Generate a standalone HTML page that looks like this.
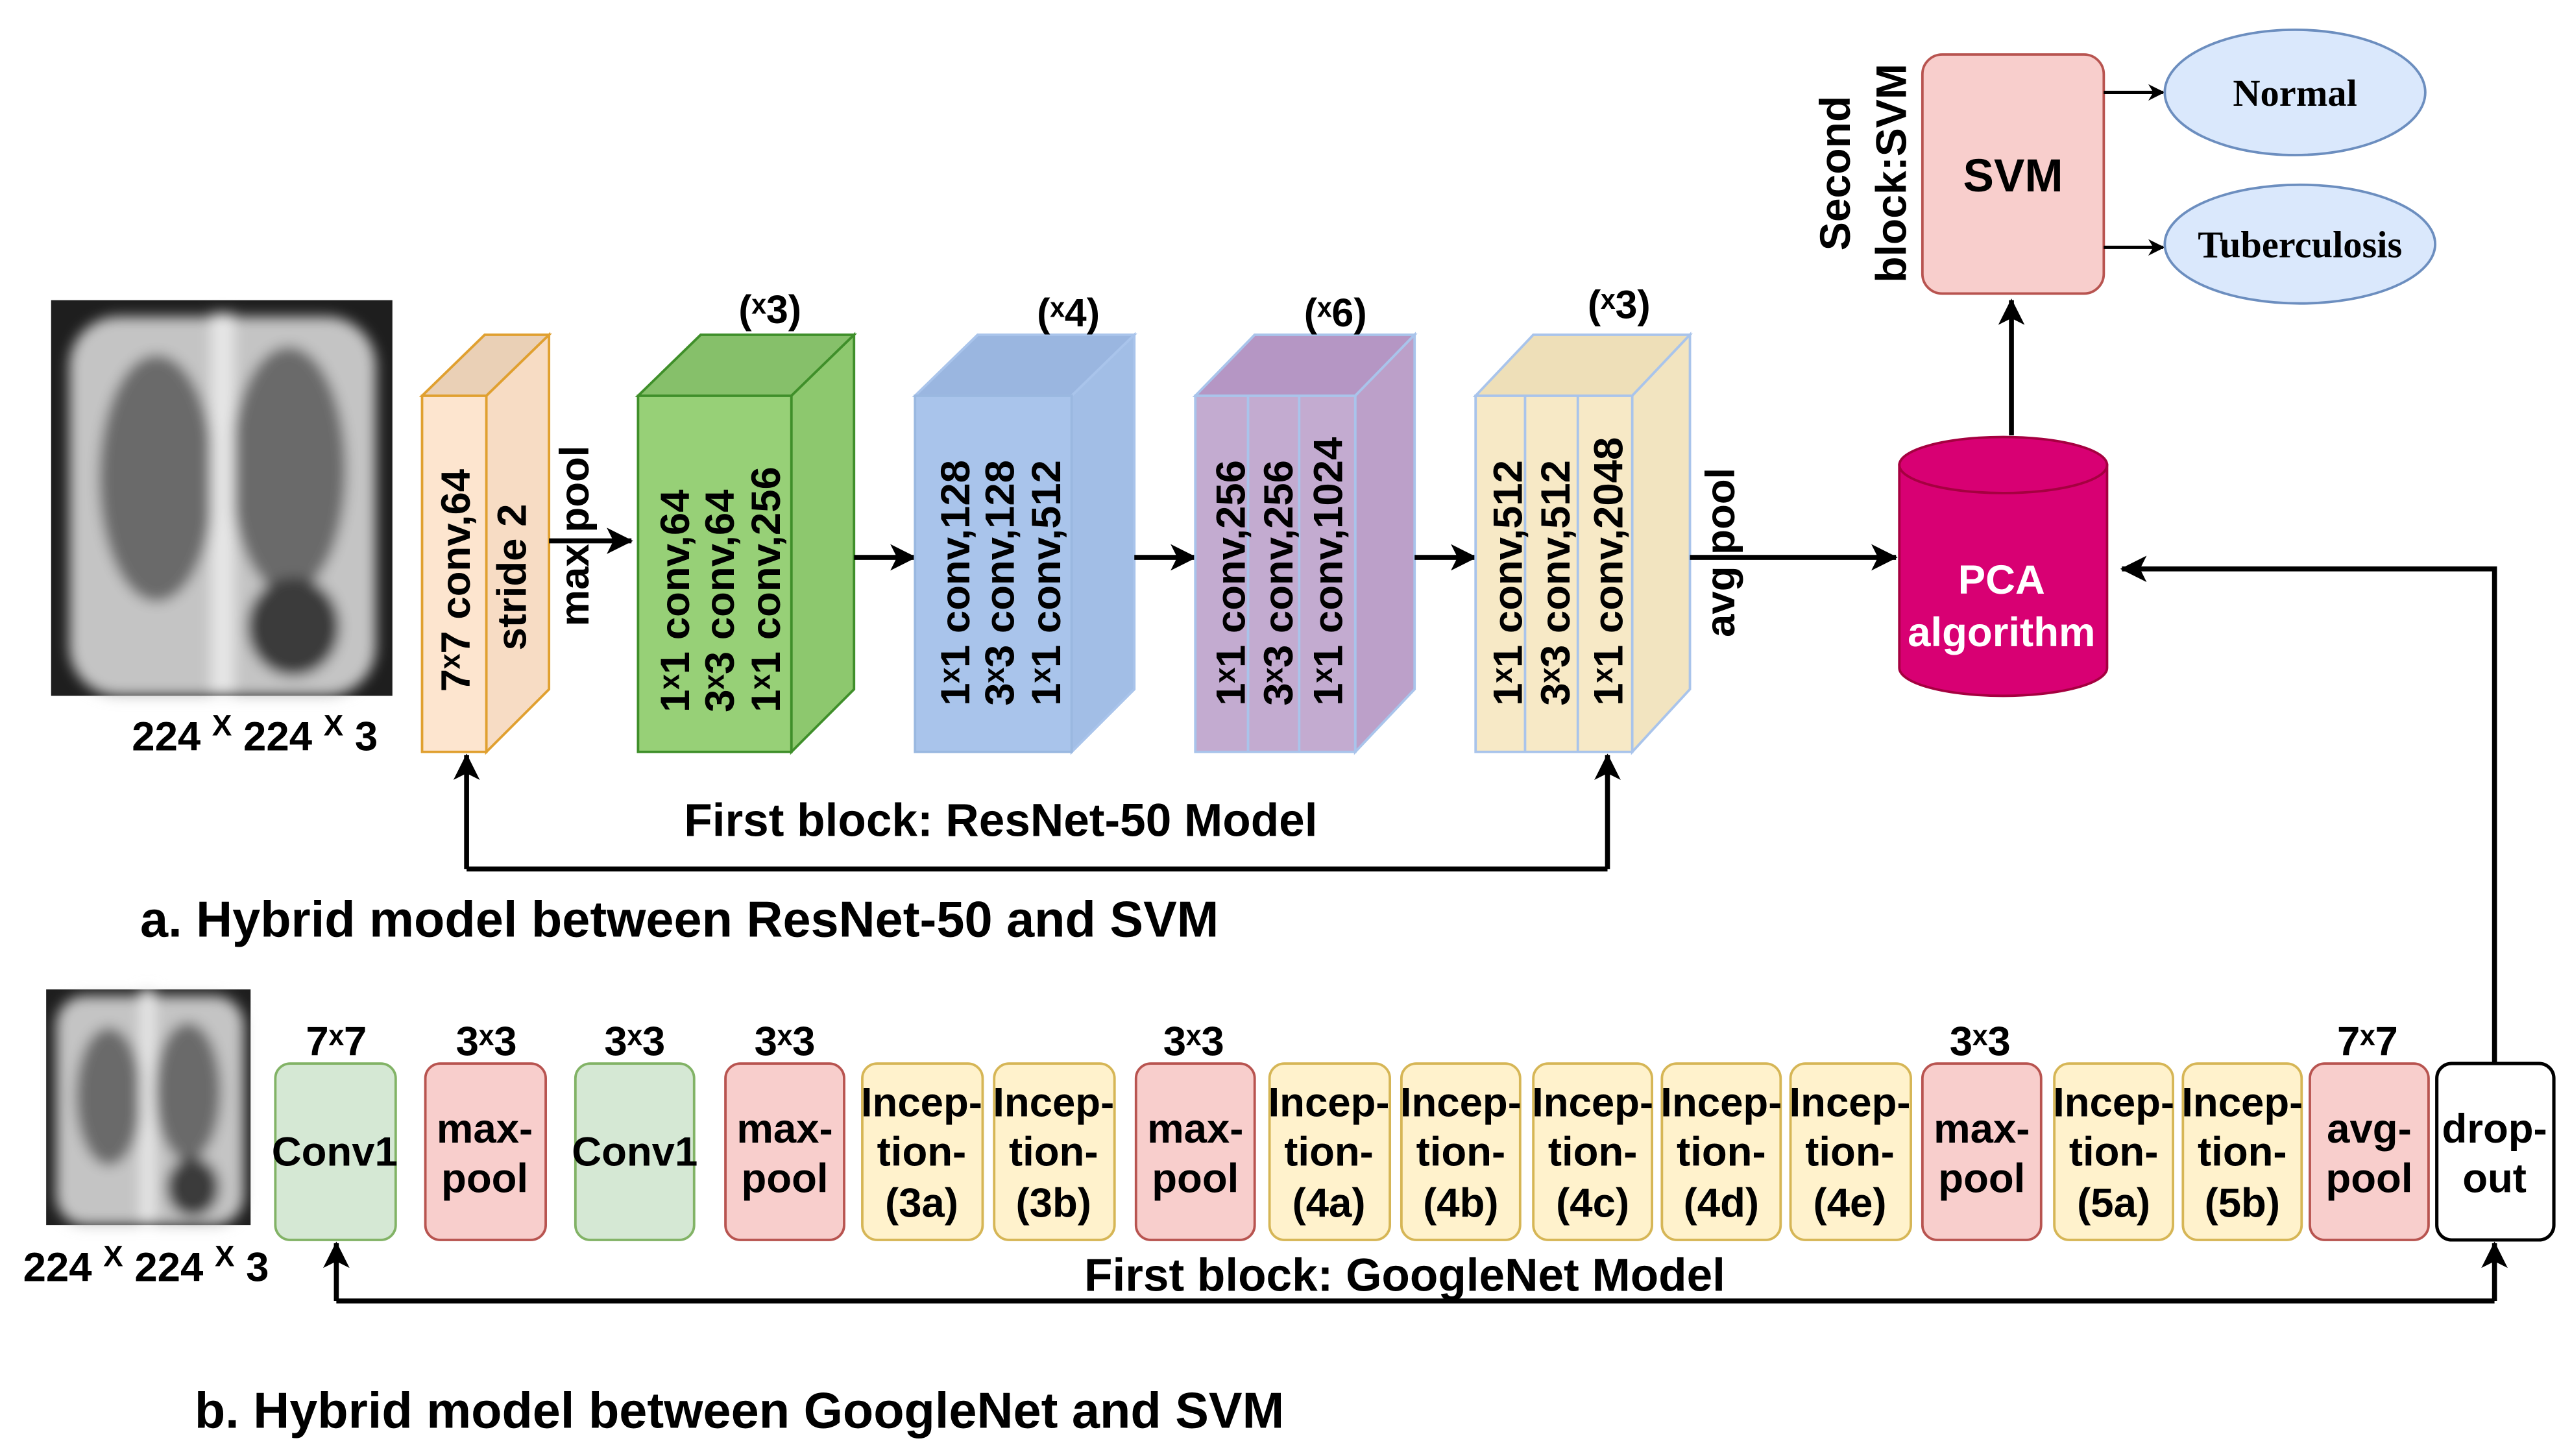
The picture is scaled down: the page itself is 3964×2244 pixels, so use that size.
<!DOCTYPE html>
<html><head><meta charset="utf-8"><style>
html,body{margin:0;padding:0;background:#fff;}
svg{display:block;}
text{font-family:"Liberation Sans",sans-serif;font-weight:bold;fill:#000;}
</style></head><body>
<svg width="3964" height="2244" viewBox="0 0 1560 883" xmlns="http://www.w3.org/2000/svg">
<defs>
<marker id="ah" markerWidth="10" markerHeight="10" refX="9" refY="5" orient="auto" markerUnits="userSpaceOnUse">
<path d="M0,0 L10,5 L0,10 L3,5 Z" fill="#000"/></marker>
<marker id="ahb" markerWidth="16" markerHeight="16" refX="15" refY="8" orient="auto" markerUnits="userSpaceOnUse">
<path d="M0,0 L16,8 L0,16 L4,8 Z" fill="#000"/></marker>
<filter id="bl"><feGaussianBlur stdDeviation="4"/></filter>
</defs>

<!-- X-ray top -->
<g>
<rect x="31" y="182" width="207" height="240" fill="#1e1e1e"/>
<g filter="url(#bl)">
<rect x="42" y="192" width="186" height="230" rx="30" fill="#c4c4c4"/>
<ellipse cx="95" cy="290" rx="35" ry="75" fill="#6a6a6a"/>
<ellipse cx="175" cy="285" rx="35" ry="75" fill="#6a6a6a"/>
<rect x="128" y="190" width="14" height="232" fill="#e6e6e6"/>
<ellipse cx="178" cy="380" rx="28" ry="30" fill="#3a3a3a"/>
</g>
</g>
<text x="80" y="455" font-size="25">224 <tspan font-size="18" dy="-9">X</tspan><tspan dy="9"> 224 </tspan><tspan font-size="18" dy="-9">X</tspan><tspan dy="9"> 3</tspan></text>

<!-- Orange -->
<polygon points="256,240 295,240 333,203 294,203" fill="#ead0b6" stroke="#e0a030" stroke-width="1.5"/>
<polygon points="295,240 333,203 333,418 295,456" fill="#f7dcc4" stroke="#e0a030" stroke-width="1.5"/>
<rect x="256" y="240" width="39" height="216" fill="#fde5cf" stroke="#e0a030" stroke-width="1.5"/>
<text transform="translate(285,352) rotate(-90)" font-size="25" text-anchor="middle">7ˣ7 conv,64</text>
<text transform="translate(319,350) rotate(-90)" font-size="25" text-anchor="middle">stride 2</text>
<text transform="translate(357,325) rotate(-90)" font-size="25" text-anchor="middle">max pool</text>
<line x1="333" y1="328" x2="383" y2="328" stroke="#000" stroke-width="3" marker-end="url(#ahb)"/>

<!-- Green -->
<polygon points="387,240 480,240 518,203 425,203" fill="#86c06a" stroke="#3f8f2a" stroke-width="1.5"/>
<polygon points="480,240 518,203 518,418 480,456" fill="#8dc86e" stroke="#3f8f2a" stroke-width="1.5"/>
<rect x="387" y="240" width="93" height="216" fill="#97d077" stroke="#3f8f2a" stroke-width="1.5"/>
<text x="467" y="196" font-size="24" text-anchor="middle">(ˣ3)</text>
<text transform="translate(418,432) rotate(-90)" font-size="25">1ˣ1 conv,64</text>
<text transform="translate(445,432) rotate(-90)" font-size="25">3ˣ3 conv,64</text>
<text transform="translate(473,432) rotate(-90)" font-size="25">1ˣ1 conv,256</text>
<line x1="518" y1="338" x2="555" y2="338" stroke="#000" stroke-width="3" marker-end="url(#ahb)"/>

<!-- Blue -->
<polygon points="555,240 650,240 688,203 593,203" fill="#9ab6e0" stroke="#a9c4eb" stroke-width="1.5"/>
<polygon points="650,240 688,203 688,418 650,456" fill="#a2bee6" stroke="#a9c4eb" stroke-width="1.5"/>
<rect x="555" y="240" width="95" height="216" fill="#a9c4eb" stroke="#9ab8e0" stroke-width="1.5"/>
<text x="648" y="198" font-size="24" text-anchor="middle">(ˣ4)</text>
<text transform="translate(588,428) rotate(-90)" font-size="25">1ˣ1 conv,128</text>
<text transform="translate(615,428) rotate(-90)" font-size="25">3ˣ3 conv,128</text>
<text transform="translate(643,428) rotate(-90)" font-size="25">1ˣ1 conv,512</text>
<line x1="688" y1="338" x2="725" y2="338" stroke="#000" stroke-width="3" marker-end="url(#ahb)"/>

<!-- Purple -->
<polygon points="725,240 822,240 858,203 761,203" fill="#b596c4" stroke="#a9c4eb" stroke-width="1.5"/>
<polygon points="822,240 858,203 858,418 822,456" fill="#bca0c9" stroke="#a9c4eb" stroke-width="1.5"/>
<rect x="725" y="240" width="97" height="216" fill="#c3abd0" stroke="#a9c4eb" stroke-width="1.5"/>
<line x1="757" y1="240" x2="757" y2="456" stroke="#a9c4eb" stroke-width="1.5"/>
<line x1="788" y1="240" x2="788" y2="456" stroke="#a9c4eb" stroke-width="1.5"/>
<text x="810" y="198" font-size="24" text-anchor="middle">(ˣ6)</text>
<text transform="translate(755,428) rotate(-90)" font-size="25">1ˣ1 conv,256</text>
<text transform="translate(784,428) rotate(-90)" font-size="25">3ˣ3 conv,256</text>
<text transform="translate(814,428) rotate(-90)" font-size="25">1ˣ1 conv,1024</text>
<line x1="858" y1="338" x2="895" y2="338" stroke="#000" stroke-width="3" marker-end="url(#ahb)"/>

<!-- Yellow -->
<polygon points="895,240 990,240 1025,203 930,203" fill="#eedfb8" stroke="#a9c4eb" stroke-width="1.5"/>
<polygon points="990,240 1025,203 1025,418 990,456" fill="#f2e4c0" stroke="#a9c4eb" stroke-width="1.5"/>
<rect x="895" y="240" width="95" height="216" fill="#f7e9c6" stroke="#a9c4eb" stroke-width="1.5"/>
<line x1="925" y1="240" x2="925" y2="456" stroke="#a9c4eb" stroke-width="1.5"/>
<line x1="957" y1="240" x2="957" y2="456" stroke="#a9c4eb" stroke-width="1.5"/>
<text x="982" y="193" font-size="24" text-anchor="middle">(ˣ3)</text>
<text transform="translate(923,428) rotate(-90)" font-size="25">1ˣ1 conv,512</text>
<text transform="translate(952,428) rotate(-90)" font-size="25">3ˣ3 conv,512</text>
<text transform="translate(984,428) rotate(-90)" font-size="25">1ˣ1 conv,2048</text>
<text transform="translate(1052,335) rotate(-90)" font-size="25" text-anchor="middle">avg  pool</text>
<line x1="1025" y1="338" x2="1150" y2="338" stroke="#000" stroke-width="3" marker-end="url(#ahb)"/>

<!-- PCA cylinder -->
<path d="M1152,282 L1152,405 A63,17 0 0 0 1278,405 L1278,282 Z" fill="#d80073" stroke="#a50040" stroke-width="1.5"/>
<ellipse cx="1215" cy="282" rx="63" ry="17" fill="#d80073" stroke="#a50040" stroke-width="1.5"/>
<text x="1214" y="360" font-size="25" text-anchor="middle" style="fill:#fff">PCA</text>
<text x="1214" y="392" font-size="25" text-anchor="middle" style="fill:#fff">algorithm</text>
<line x1="1220" y1="264" x2="1220" y2="182" stroke="#000" stroke-width="3" marker-end="url(#ahb)"/>

<!-- SVM -->
<rect x="1166" y="33" width="110" height="145" rx="12" fill="#f8cecc" stroke="#b85450" stroke-width="1.5"/>
<text x="1221" y="116" font-size="28" text-anchor="middle">SVM</text>
<text transform="translate(1122,105) rotate(-90)" font-size="26" text-anchor="middle">Second</text>
<text transform="translate(1156,105) rotate(-90)" font-size="26" text-anchor="middle">block:SVM</text>
<line x1="1276" y1="56" x2="1312" y2="56" stroke="#000" stroke-width="2" marker-end="url(#ah)"/>
<line x1="1276" y1="150" x2="1312" y2="150" stroke="#000" stroke-width="2" marker-end="url(#ah)"/>
<ellipse cx="1392" cy="56" rx="79" ry="38" fill="#dae8fc" stroke="#6c8ebf" stroke-width="1.5"/>
<ellipse cx="1395" cy="148" rx="82" ry="36" fill="#dae8fc" stroke="#6c8ebf" stroke-width="1.5"/>
<text x="1392" y="64" font-size="23" text-anchor="middle" style="font-family:'Liberation Serif',serif">Normal</text>
<text x="1395" y="156" font-size="23" text-anchor="middle" style="font-family:'Liberation Serif',serif">Tuberculosis</text>

<!-- ResNet feedback -->
<polyline points="283,527 975,527" fill="none" stroke="#000" stroke-width="3"/>
<line x1="283" y1="527" x2="283" y2="458" stroke="#000" stroke-width="3" marker-end="url(#ahb)"/>
<line x1="975" y1="527" x2="975" y2="458" stroke="#000" stroke-width="3" marker-end="url(#ahb)"/>
<text x="607" y="507" font-size="28" text-anchor="middle">First block: ResNet-50 Model</text>
<text x="85" y="568" font-size="30.5">a. Hybrid model between ResNet-50 and SVM</text>

<!-- right loop -->
<polyline points="1513,645 1513,345 1287,345" fill="none" stroke="#000" stroke-width="3" marker-end="url(#ahb)"/>

<!-- bottom xray -->
<rect x="28" y="600" width="124" height="143" fill="#1e1e1e"/>
<g filter="url(#bl)">
<rect x="34" y="604" width="114" height="139" rx="18" fill="#c4c4c4"/>
<ellipse cx="66" cy="665" rx="20" ry="42" fill="#6a6a6a"/>
<ellipse cx="114" cy="662" rx="20" ry="42" fill="#6a6a6a"/>
<rect x="85" y="600" width="9" height="143" fill="#e6e6e6"/>
<ellipse cx="117" cy="720" rx="16" ry="18" fill="#3a3a3a"/>
</g>
<text x="14" y="777" font-size="25">224 <tspan font-size="18" dy="-9">X</tspan><tspan dy="9"> 224 </tspan><tspan font-size="18" dy="-9">X</tspan><tspan dy="9"> 3</tspan></text>

<!-- bottom boxes -->
<g font-size="25" text-anchor="middle">
<rect x="167" y="645" width="73" height="107" rx="9" fill="#d5e8d4" stroke="#82b366" stroke-width="1.5"/>
<text x="203" y="707">Conv1</text>
<rect x="258" y="645" width="73" height="107" rx="9" fill="#f8cecc" stroke="#b85450" stroke-width="1.5"/>
<text x="294" y="693">max-</text><text x="294" y="723">pool</text>
<rect x="349" y="645" width="72" height="107" rx="9" fill="#d5e8d4" stroke="#82b366" stroke-width="1.5"/>
<text x="385" y="707">Conv1</text>
<rect x="440" y="645" width="72" height="107" rx="9" fill="#f8cecc" stroke="#b85450" stroke-width="1.5"/>
<text x="476" y="693">max-</text><text x="476" y="723">pool</text>
<rect x="523" y="645" width="73" height="107" rx="9" fill="#fff2cc" stroke="#d6b656" stroke-width="1.5"/>
<text x="559" y="677">Incep-</text><text x="559" y="707">tion-</text><text x="559" y="738">(3a)</text>
<rect x="603" y="645" width="73" height="107" rx="9" fill="#fff2cc" stroke="#d6b656" stroke-width="1.5"/>
<text x="639" y="677">Incep-</text><text x="639" y="707">tion-</text><text x="639" y="738">(3b)</text>
<rect x="689" y="645" width="72" height="107" rx="9" fill="#f8cecc" stroke="#b85450" stroke-width="1.5"/>
<text x="725" y="693">max-</text><text x="725" y="723">pool</text>
<rect x="770" y="645" width="73" height="107" rx="9" fill="#fff2cc" stroke="#d6b656" stroke-width="1.5"/>
<text x="806" y="677">Incep-</text><text x="806" y="707">tion-</text><text x="806" y="738">(4a)</text>
<rect x="850" y="645" width="72" height="107" rx="9" fill="#fff2cc" stroke="#d6b656" stroke-width="1.5"/>
<text x="886" y="677">Incep-</text><text x="886" y="707">tion-</text><text x="886" y="738">(4b)</text>
<rect x="930" y="645" width="72" height="107" rx="9" fill="#fff2cc" stroke="#d6b656" stroke-width="1.5"/>
<text x="966" y="677">Incep-</text><text x="966" y="707">tion-</text><text x="966" y="738">(4c)</text>
<rect x="1008" y="645" width="72" height="107" rx="9" fill="#fff2cc" stroke="#d6b656" stroke-width="1.5"/>
<text x="1044" y="677">Incep-</text><text x="1044" y="707">tion-</text><text x="1044" y="738">(4d)</text>
<rect x="1086" y="645" width="73" height="107" rx="9" fill="#fff2cc" stroke="#d6b656" stroke-width="1.5"/>
<text x="1122" y="677">Incep-</text><text x="1122" y="707">tion-</text><text x="1122" y="738">(4e)</text>
<rect x="1166" y="645" width="72" height="107" rx="9" fill="#f8cecc" stroke="#b85450" stroke-width="1.5"/>
<text x="1202" y="693">max-</text><text x="1202" y="723">pool</text>
<rect x="1246" y="645" width="72" height="107" rx="9" fill="#fff2cc" stroke="#d6b656" stroke-width="1.5"/>
<text x="1282" y="677">Incep-</text><text x="1282" y="707">tion-</text><text x="1282" y="738">(5a)</text>
<rect x="1324" y="645" width="72" height="107" rx="9" fill="#fff2cc" stroke="#d6b656" stroke-width="1.5"/>
<text x="1360" y="677">Incep-</text><text x="1360" y="707">tion-</text><text x="1360" y="738">(5b)</text>
<rect x="1401" y="645" width="72" height="107" rx="9" fill="#f8cecc" stroke="#b85450" stroke-width="1.5"/>
<text x="1437" y="693">avg-</text><text x="1437" y="723">pool</text>
<rect x="1478" y="645" width="71" height="107" rx="9" fill="#fff" stroke="#000" stroke-width="2"/>
<text x="1513" y="693">drop-</text><text x="1513" y="723">out</text>

<text x="204" y="640">7ˣ7</text>
<text x="295" y="640">3ˣ3</text>
<text x="385" y="640">3ˣ3</text>
<text x="476" y="640">3ˣ3</text>
<text x="724" y="640">3ˣ3</text>
<text x="1201" y="640">3ˣ3</text>
<text x="1436" y="640">7ˣ7</text>
</g>

<!-- bottom feedback -->
<line x1="204" y1="789" x2="1513" y2="789" stroke="#000" stroke-width="3"/>
<line x1="204" y1="789" x2="204" y2="754" stroke="#000" stroke-width="3" marker-end="url(#ahb)"/>
<line x1="1513" y1="789" x2="1513" y2="754" stroke="#000" stroke-width="3" marker-end="url(#ahb)"/>
<text x="852" y="783" font-size="28" text-anchor="middle">First block: GoogleNet Model</text>
<text x="118" y="866" font-size="30.5">b. Hybrid model between GoogleNet and SVM</text>
</svg>
</body></html>
